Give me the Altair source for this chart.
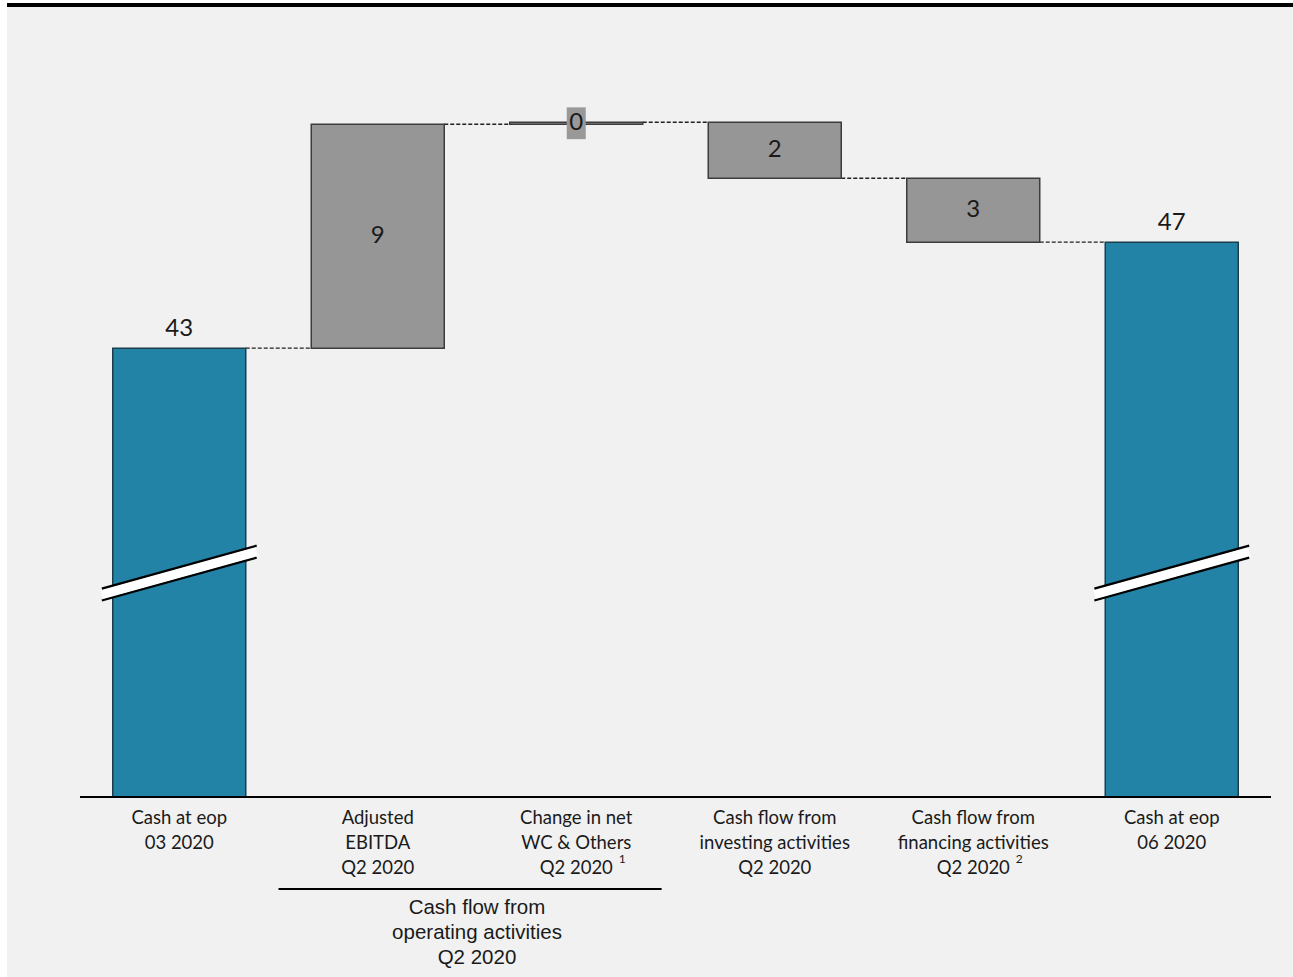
import altair as alt
import pandas as pd

# ---- data ----
categories = [
    "Cash at eop\n03 2020",
    "Adjusted\nEBITDA\nQ2 2020",
    "Change in net\nWC & Others\nQ2 2020",
    "Cash flow from\ninvesting activities\nQ2 2020",
    "Cash flow from\nfinancing activities\nQ2 2020",
    "Cash at eop\n06 2020",
]
start_value = 43.4
changes = [8.45, 0.075, -2.11, -2.415]
value_labels = ["43", "9", "0", "2", "3", "47"]
footnotes = ["", "", "1", "", "2", ""]
group_label = "Cash flow from\noperating activities\nQ2 2020"
group_span = [0.5, 2.43]  # in category index units
group_center = 1.5

# broken axis: visible part of the value axis
axis_min = 26.46
axis_max = 55.03
break_height = 8.45  # break marks, measured from axis start
break_slope = 0.81
break_gap = 0.226

HALF = 0.335

# ---- build tables ----
rows = []
level = start_value
rows.append(dict(i=0, kind="total", y=axis_min, y2=start_value, lab=value_labels[0], top=start_value))
for k, c in enumerate(changes, start=1):
    new = level + c
    rows.append(dict(i=k, kind="change", y=level, y2=new, lab=value_labels[k], top=max(level, new)))
    level = new
rows.append(dict(i=5, kind="total", y=axis_min, y2=level, lab=value_labels[5], top=level))
bars = pd.DataFrame(rows)
bars["x"] = bars["i"] - HALF
bars["x2"] = bars["i"] + HALF
bars["mid"] = (bars["y"] + bars["y2"]) / 2

conn = []
for r in rows[:-1]:
    conn.append(dict(x=r["i"] + HALF, x2=r["i"] + 1 - HALF, y=r["y2"]))
conn = pd.DataFrame(conn)

cat_lines = []
for i, c in enumerate(categories):
    for ln, t in enumerate(c.split("\n")):
        cat_lines.append(dict(i=i, line=ln, t=t, yy=axis_min))
cat_lines = pd.DataFrame(cat_lines)
fns = pd.DataFrame([dict(i=i, fn=f, yy=axis_min) for i, f in enumerate(footnotes) if f])

brk = []
for i in (0, 5):
    for name, off in (("top", break_gap), ("mid", 0.0), ("bot", -break_gap)):
        for dx in (-0.39, 0.39):
            brk.append(dict(g=f"{i}-{name}", part=name, x=i + dx,
                            y=axis_min + break_height + off + dx / 0.39 * break_slope))
brk = pd.DataFrame(brk)

xs = alt.Scale(domain=[-0.5, 5.5], nice=False, zero=False, padding=0)
ys = alt.Scale(domain=[axis_min, axis_max], nice=False, zero=False, padding=0)
X = lambda f: alt.X(f, type="quantitative", scale=xs, axis=None)
Y = lambda f: alt.Y(f, type="quantitative", scale=ys, axis=None)

W, H = 1191, 757
PL, PT = 80, 40

panel = alt.Chart(pd.DataFrame({"a": [0]})).mark_rect(color="#f1f1f1").encode(
    x=alt.value(7 - PL), x2=alt.value(1293 - PL), y=alt.value(7 - PT), y2=alt.value(977 - PT))
topbar = alt.Chart(pd.DataFrame({"a": [0]})).mark_rect(color="#000000").encode(
    x=alt.value(7 - PL), x2=alt.value(1293 - PL), y=alt.value(3 - PT), y2=alt.value(7 - PT))

base = alt.Chart(bars)
bar_layer = base.mark_rect(strokeWidth=1.5).encode(
    x=X("x"), x2="x2", y=Y("y"), y2="y2",
    color=alt.Color("kind:N", scale=alt.Scale(domain=["total", "change"], range=["#2383a7", "#969696"]), legend=None),
    stroke=alt.Stroke("kind:N", scale=alt.Scale(domain=["total", "change"], range=["#1d3d4c", "#3c3c3c"]), legend=None),
)

conn_layer = alt.Chart(conn).mark_rule(color="#222222", strokeWidth=1.4, strokeDash=[4, 2]).encode(
    x=X("x"), x2="x2", y=Y("y"))

axis_line = alt.Chart(pd.DataFrame({"x": [-0.5], "x2": [5.5], "y": [axis_min]})).mark_rule(
    color="#000000", strokeWidth=2).encode(x=X("x"), x2="x2", y=Y("y"))

brk_white = alt.Chart(brk[brk.part == "mid"]).mark_line(color="#ffffff", strokeWidth=10).encode(
    x=X("x"), y=Y("y"), detail="g:N")
brk_black = alt.Chart(brk[brk.part != "mid"]).mark_line(color="#000000", strokeWidth=2.2).encode(
    x=X("x"), y=Y("y"), detail="g:N")

font_cal = "Lato"
total_lbl = base.transform_filter("datum.kind == 'total'").mark_text(
    font=font_cal, fontSize=24, baseline="alphabetic", dy=-12, color="#1a1a1a").encode(
    x=X("i"), y=Y("top"), text="lab:N")

zero_box = base.transform_filter("datum.i == 2").transform_calculate(
    b1="datum.mid + 0.6", b2="datum.mid - 0.6").mark_bar(size=19, color="#999999").encode(
    x=X("i"), y=Y("b1"), y2="b2")

change_lbl = base.transform_filter("datum.kind == 'change'").mark_text(
    font=font_cal, fontSize=24, baseline="middle", color="#1a1a1a").encode(
    x=X("i"), y=Y("mid"), text="lab:N")

cat_layers = [
    alt.Chart(cat_lines).transform_filter(f"datum.line == {ln}").mark_text(
        font=font_cal, fontSize=18.5, baseline="middle", dy=21 + 25 * ln, color="#1a1a1a").encode(
        x=X("i"), y=Y("yy"), text="t:N")
    for ln in range(3)
]

fn_lbl = alt.Chart(fns).mark_text(
    font=font_cal, fontSize=12, baseline="middle", dx=46, dy=62, color="#1a1a1a").encode(
    x=X("i"), y=Y("yy"), text="fn:N")

grp_rule = alt.Chart(pd.DataFrame({"x": [group_span[0]], "x2": [group_span[1]]})).mark_rule(
    color="#000000", strokeWidth=2).encode(x=X("x"), x2="x2", y=alt.value(889 - PT))

grp_lines = pd.DataFrame([dict(x=group_center, line=ln, t=t) for ln, t in enumerate(group_label.split("\n"))])
grp_layers = [
    alt.Chart(grp_lines).transform_filter(f"datum.line == {ln}").mark_text(
        font="Liberation Sans", fontSize=20.5, baseline="middle", color="#1a1a1a").encode(
        x=X("x"), y=alt.value(908 + 25 * ln - PT), text="t:N")
    for ln in range(3)
]

chart = alt.layer(
    panel, topbar, conn_layer, bar_layer, brk_white, brk_black, axis_line,
    total_lbl, zero_box, change_lbl, *cat_layers, fn_lbl, grp_rule, *grp_layers,
).properties(
    width=W, height=H,
    padding={"left": PL, "top": PT, "right": 1293 - PL - W, "bottom": 977 - PT - H},
    autosize=alt.AutoSizeParams(type="none"),
    background="#ffffff",
).configure_view(stroke=None)

chart.save("out.html", embed_options={"renderer": "svg", "actions": False})
